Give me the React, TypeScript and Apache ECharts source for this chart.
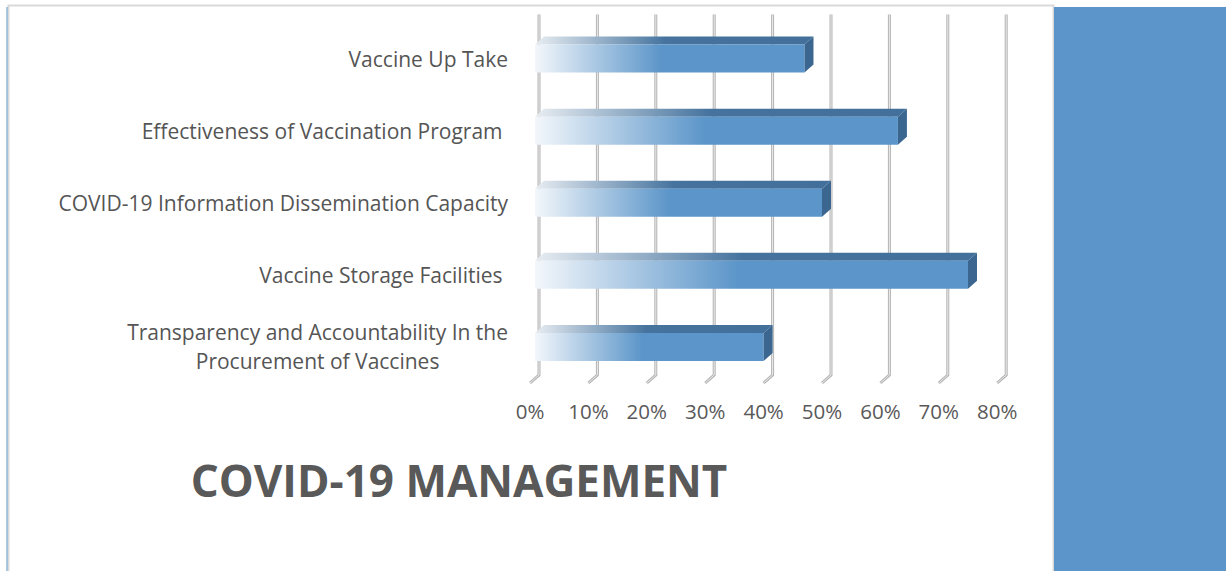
import React, { useEffect, useRef } from "react";
import * as echarts from "echarts";

const categories = [
  "Vaccine Up Take",
  "Effectiveness of Vaccination Program ",
  "COVID-19 Information Dissemination Capacity",
  "Vaccine Storage Facilities ",
  "Transparency and Accountability In the\nProcurement of Vaccines",
];
const values = [47, 63, 50, 75, 40];
const ticks = [0, 10, 20, 30, 40, 50, 60, 70, 80];
const chartTitle = "COVID-19 MANAGEMENT";

const BLUE = "#5B95C9";
const FONT = "'Open Sans', 'Noto Sans', sans-serif";

export default function App() {
  const ref = useRef<HTMLDivElement>(null);
  useEffect(() => {
    const chart = echarts.init(ref.current!, null, { renderer: "svg" });
    const DX = 9;
    const DY = 8;
    const H = 28;

    const frontGrad = () =>
      new echarts.graphic.LinearGradient(0, 0, 1, 0, [
        { offset: 0, color: "#F3F7FB" },
        { offset: 0.47, color: BLUE },
        { offset: 1, color: BLUE },
      ]);
    const topGrad = () =>
      new echarts.graphic.LinearGradient(0, 0, 1, 0, [
        { offset: 0, color: "#E8EDF2" },
        { offset: 0.47, color: "#45739E" },
        { offset: 1, color: "#42709B" },
      ]);

    const option: any = {
      animation: false,
      backgroundColor: "#ffffff",
      grid: { left: 530, top: 22.5, width: 467.2, height: 360.5, containLabel: false },
      xAxis: {
        type: "value",
        min: 0,
        max: 80,
        interval: 10,
        axisLine: { show: false },
        axisTick: { show: false },
        splitLine: { show: false },
        axisLabel: {
          formatter: "{value}%",
          fontFamily: FONT,
          fontSize: 20.5,
          color: "#595959",
          margin: 17,
        },
      },
      yAxis: {
        type: "category",
        inverse: true,
        data: categories,
        axisLine: { show: false },
        axisTick: { show: false },
        splitLine: { show: false },
        axisLabel: {
          margin: 22,
          formatter: (v: string) =>
            v
              .split("\n")
              .map((l) => "{c|" + l + "}")
              .join("\n"),
          rich: {
            c: {
              align: "center",
              fontFamily: FONT,
              fontSize: 21,
              color: "#555555",
              lineHeight: 29,
            },
          },
        },
      },
      series: [
        {
          type: "custom",
          z: 1,
          silent: true,
          data: ticks.map((t) => [t, 0]),
          renderItem: (params: any, api: any) => {
            const cs = params.coordSys;
            const x = api.coord([api.value(0), 0])[0];
            const top = cs.y - DY;
            const bottom = cs.y + cs.height;
            const pts = [
              [x + DX, top],
              [x + DX, bottom - DY],
              [x, bottom],
            ];
            return {
              type: "group",
              children: [
                {
                  type: "polyline",
                  shape: { points: pts },
                  style: { stroke: "#B4B4B4", lineWidth: 3, fill: null },
                },
                {
                  type: "polyline",
                  shape: { points: pts },
                  style: { stroke: "#EAEAEA", lineWidth: 1, fill: null },
                },
              ],
            };
          },
        },
        {
          type: "custom",
          z: 2,
          data: values.map((v, i) => [v, i]),
          renderItem: (params: any, api: any) => {
            const v = api.value(0);
            const c = api.value(1);
            const p0 = api.coord([0, c]);
            const xe = api.coord([v, c])[0];
            const x0 = p0[0] + 5;
            const yc = p0[1];
            const yT = yc - H / 2;
            const yB = yc + H / 2;
            return {
              type: "group",
              children: [
                {
                  type: "polygon",
                  shape: {
                    points: [
                      [x0, yT],
                      [xe, yT],
                      [xe + DX, yT - DY],
                      [x0 + DX, yT - DY],
                    ],
                  },
                  style: { fill: topGrad() },
                },
                {
                  type: "rect",
                  shape: { x: x0, y: yT, width: xe - x0, height: H },
                  style: { fill: frontGrad() },
                },
                {
                  type: "polygon",
                  shape: {
                    points: [
                      [xe, yT],
                      [xe + DX, yT - DY],
                      [xe + DX, yB - DY],
                      [xe, yB],
                    ],
                  },
                  style: { fill: "#3B6690" },
                },
              ],
            };
          },
        },
      ],
      graphic: [
        {
          type: "rect",
          silent: true,
          shape: { x: 8.5, y: 5.5, width: 1045, height: 580 },
          style: { fill: null, stroke: "#D9D9D9", lineWidth: 2 },
          z: 0,
        },
        {
          type: "line",
          silent: true,
          shape: { x1: 7, y1: 7, x2: 7, y2: 571 },
          style: { stroke: BLUE, lineWidth: 1 },
        },
        {
          type: "rect",
          silent: true,
          shape: { x: 1054, y: 7, width: 172, height: 564 },
          style: { fill: BLUE },
        },
        {
          type: "text",
          silent: true,
          x: 459,
          y: 480,
          style: {
            text: chartTitle,
            fontFamily: FONT,
            fontWeight: "bold",
            fontSize: 44,
            fill: "#595959",
            textAlign: "center",
            textVerticalAlign: "middle",
          },
        },
      ],
    };
    chart.setOption(option);
    return () => chart.dispose();
  }, []);
  return (
    <div
      ref={ref}
      style={{ position: "fixed", left: 0, top: 0, width: 1226, height: 571 }}
    />
  );
}
